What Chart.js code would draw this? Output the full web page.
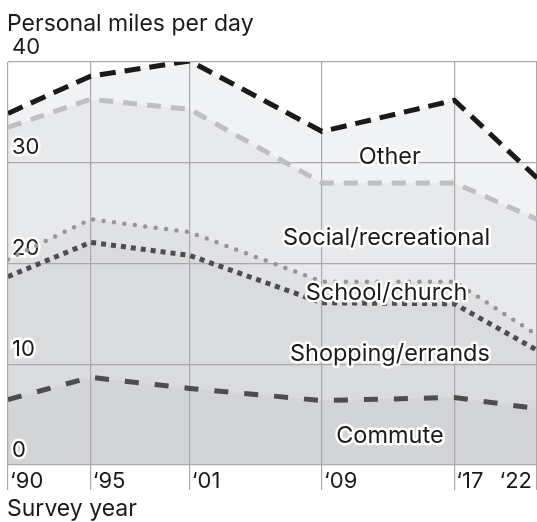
<!DOCTYPE html>
<html>
<head>
<meta charset="utf-8">
<script src="https://cdn.jsdelivr.net/npm/chart.js@4"></script>
<style>
  html, body { margin: 0; padding: 0; background: #fff; }
  #wrap { width: 537px; height: 522px; position: relative; }
</style>
</head>
<body>
<div id="wrap"><canvas id="myChart"></canvas></div>
<script>
// survey years and cumulative miles per day (each line is the running total)
const years = [1990, 1995, 2001, 2009, 2017, 2022];
const yearLabels = ['\u201890', '\u201895', '\u201801', '\u201809', '\u201817', '\u201822'];
const commute = [6.5, 8.7, 7.6, 6.4, 6.7, 5.6];
const shopping = [18.7, 22.1, 20.8, 16.1, 16.0, 11.4];
const school = [20.4, 24.4, 23.1, 18.2, 18.2, 12.9];
const social = [33.5, 36.3, 35.3, 28.0, 28.0, 24.4];
const other = [34.9, 38.6, 40.1, 33.1, 36.2, 28.5];
const yTicks = [0, 10, 20, 30, 40];

const FONT = 'Inter, "Noto Sans", sans-serif';

function pts(vals) {
  return years.map((y, i) => ({ x: y, y: vals[i] }));
}

function haloText(ctx, text, x, y, size, align) {
  ctx.save();
  ctx.font = size + 'px ' + FONT;
  ctx.textAlign = align || 'center';
  ctx.textBaseline = 'middle';
  ctx.lineJoin = 'round';
  ctx.lineWidth = 5;
  ctx.strokeStyle = '#fff';
  ctx.strokeText(text, x, y);
  ctx.fillStyle = '#1a1a1a';
  ctx.fillText(text, x, y);
  ctx.restore();
}

const labelsPlugin = {
  id: 'labelsPlugin',
  afterDraw(chart) {
    const ctx = chart.ctx;
    const xs = chart.scales.x;
    const ys = chart.scales.y;
    const bottom = chart.chartArea.bottom;

    // category labels inside the bands
    const inner = [
      ['Other', 2013.1, 30.6],
      ['Social/recreational', 2012.9, 22.5],
      ['School/church', 2012.9, 17.1],
      ['Shopping/errands', 2013.1, 11.0],
      ['Commute', 2013.1, 2.85]
    ];
    inner.forEach(l => haloText(ctx, l[0], xs.getPixelForValue(l[1]), ys.getPixelForValue(l[2]), 23.5));

    // year labels under the axis
    ctx.save();
    ctx.font = '22px ' + FONT;
    ctx.fillStyle = '#1a1a1a';
    ctx.textBaseline = 'middle';
    years.forEach((yr, i) => {
      const px = xs.getPixelForValue(yr);
      if (i === years.length - 1) {
        ctx.textAlign = 'right';
        ctx.fillText(yearLabels[i], px - 5, bottom + 16);
      } else {
        ctx.textAlign = 'left';
        ctx.fillText(yearLabels[i], px + 2, bottom + 16);
      }
    });
    ctx.textAlign = 'left';
    ctx.font = '23px ' + FONT;
    ctx.fillText('Personal miles per day', 7, 24);
    ctx.fillText('Survey year', 7, 509);
    ctx.restore();
  }
};

const ctx = document.getElementById('myChart');

new Chart(ctx.getContext('2d'), {
  type: 'line',
  data: {
    datasets: [
      {
        label: 'Commute',
        data: pts(commute),
        borderColor: '#4d4d4f',
        borderWidth: 5,
        borderDash: [14, 16],
        fill: 'origin',
        backgroundColor: '#d3d4d6'
      },
      {
        label: 'Shopping/errands',
        data: pts(shopping),
        borderColor: '#4d4d4f',
        borderWidth: 5,
        borderDash: [5, 5],
        fill: 'origin',
        backgroundColor: '#dadbdd'
      },
      {
        label: 'School/church',
        data: pts(school),
        borderColor: '#959597',
        borderWidth: 4.5,
        borderCapStyle: 'round',
        borderDash: [0, 10.5],
        fill: 'origin',
        backgroundColor: '#e0e1e3'
      },
      {
        label: 'Social/recreational',
        data: pts(social),
        borderColor: '#bebfc1',
        borderWidth: 5,
        borderDash: [14, 10],
        fill: 'origin',
        backgroundColor: '#e8e9eb'
      },
      {
        label: 'Other',
        data: pts(other),
        borderColor: '#1a1a1a',
        borderWidth: 5,
        borderDash: [16, 9],
        fill: 'origin',
        backgroundColor: '#f1f2f3'
      }
    ]
  },
  options: {
    responsive: true,
    maintainAspectRatio: false,
    animation: false,
    layout: { padding: { left: 8, right: 0, top: 62, bottom: 0 } },
    elements: {
      point: { radius: 0 },
      line: { tension: 0 }
    },
    scales: {
      x: {
        type: 'linear',
        min: 1990,
        max: 2022,
        afterBuildTicks: s => { s.ticks = years.map(v => ({ value: v })); },
        afterFit: s => { s.height = 57; },
        border: { display: false },
        grid: { color: '#a9a9ab', lineWidth: 1.2, tickLength: 25, drawTicks: true },
        ticks: { display: false }
      },
      y: {
        min: 0,
        max: 40,
        afterBuildTicks: s => { s.ticks = yTicks.map(v => ({ value: v })); },
        afterFit: s => { s.width = 0; },
        border: { display: false },
        grid: { color: '#a9a9ab', lineWidth: 1.2, drawTicks: false },
        ticks: {
          mirror: true,
          padding: 4,
          labelOffset: -15,
          color: '#1a1a1a',
          font: { family: FONT, size: 22 },
          textStrokeColor: '#fff',
          textStrokeWidth: 5
        }
      }
    },
    plugins: {
      legend: { display: false },
      tooltip: { enabled: false },
      filler: { drawTime: 'beforeDraw' }
    }
  },
  plugins: [labelsPlugin]
});
</script>
</body>
</html>
